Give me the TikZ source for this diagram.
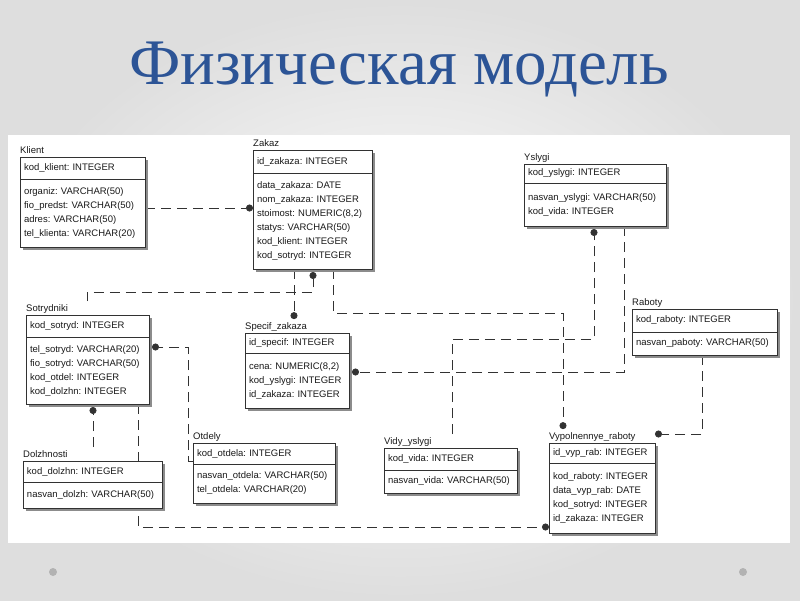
\documentclass[tikz,border=0pt]{standalone}
\usepackage{fontspec}
\setmainfont{Liberation Sans}
\newfontfamily\titlefont{Liberation Serif}
\usepackage{xcolor}
\usepackage{tikz}
\usetikzlibrary{arrows.meta,positioning,shadows}
\frenchspacing

\definecolor{titleblue}{RGB}{44,84,150}
\definecolor{erline}{RGB}{50,50,50}
\definecolor{ertext}{RGB}{25,25,25}

\pgfdeclarelayer{slide}
\pgfdeclarelayer{links}
\pgfsetlayers{slide,links,main}

\begin{document}
\begin{tikzpicture}[
    x=1pt, y=-1pt,
    font=\fontsize{9.5}{14}\selectfont,
    tbl/.style={draw=erline, fill=white, line width=0.8pt, text=ertext, align=left,
      inner xsep=4pt, inner ysep=2pt, outer sep=0pt, text width=#1,
      execute at begin node={\hyphenpenalty=10000\relax},
      drop shadow={shadow xshift=3pt, shadow yshift=-3pt, fill=black!45, opacity=1}},
    tname/.style={anchor=base west, inner sep=0pt, outer ysep=3pt, text=ertext},
    rel/.style={draw=erline, line width=0.8pt, dash pattern=on 10pt off 6pt},
    dot/.style={rel, -{Circle[length=7pt]}}
  ]
  \useasboundingbox (0,0) rectangle (800,600);

  % slide background and screenshot area
  \begin{pgfonlayer}{slide}
    \shade[inner color=white, outer color=black!13] (0,0) rectangle (800,600);
    \fill[white] (8,135) rectangle (790,543);
    \fill[black!30] (53,572) circle (4pt);
    \fill[black!30] (743,572) circle (4pt);
  \end{pgfonlayer}

  \node[font=\titlefont\fontsize{65}{65}\selectfont, text=titleblue] (title) at (399,70) {Физическая модель};

  % Tables: key part on top, attributes below
  \node[tbl=117pt, minimum height=22pt, anchor=north west] (klient) at (20,157) {kod\_klient: INTEGER};
  \node[tbl=117pt, minimum height=68pt, below=0pt of klient] (klient-b) {organiz: VARCHAR(50)\\fio\_predst: VARCHAR(50)\\adres: VARCHAR(50)\\tel\_klienta: VARCHAR(20)};
  \node[tname] (klient-t) at ([yshift=4pt]klient.north west) {Klient};

  \node[tbl=111pt, minimum height=23pt, anchor=north west] (zakaz) at (253,150) {id\_zakaza: INTEGER};
  \node[tbl=111pt, minimum height=96pt, below=0pt of zakaz] (zakaz-b) {data\_zakaza: DATE\\nom\_zakaza: INTEGER\\stoimost: NUMERIC(8,2)\\statys: VARCHAR(50)\\kod\_klient: INTEGER\\kod\_sotryd: INTEGER};
  \node[tname] (zakaz-t) at ([yshift=4pt]zakaz.north west) {Zakaz};

  \node[tbl=134pt, minimum height=19pt, anchor=north west] (ysl) at (524,164) {kod\_yslygi: INTEGER};
  \node[tbl=134pt, minimum height=43pt, below=0pt of ysl] (ysl-b) {nasvan\_yslygi: VARCHAR(50)\\kod\_vida: INTEGER};
  \node[tname] (ysl-t) at ([yshift=4pt]ysl.north west) {Yslygi};

  \node[tbl=137pt, minimum height=23pt, anchor=north west] (rab) at (632,309) {kod\_raboty: INTEGER};
  \node[tbl=137pt, minimum height=23pt, below=0pt of rab] (rab-b) {nasvan\_paboty: VARCHAR(50)};
  \node[tname] (rab-t) at ([yshift=4pt]rab.north west) {Raboty};

  \node[tbl=115pt, minimum height=22pt, anchor=north west] (sotr) at (26,315) {kod\_sotryd: INTEGER};
  \node[tbl=115pt, minimum height=67pt, below=0pt of sotr] (sotr-b) {tel\_sotryd: VARCHAR(20)\\fio\_sotryd: VARCHAR(50)\\kod\_otdel: INTEGER\\kod\_dolzhn: INTEGER};
  \node[tname] (sotr-t) at ([yshift=4pt]sotr.north west) {Sotrydniki};

  \node[tbl=96pt, minimum height=20pt, anchor=north west] (spec) at (245,333) {id\_specif: INTEGER};
  \node[tbl=96pt, minimum height=55pt, below=0pt of spec] (spec-b) {cena: NUMERIC(8,2)\\kod\_yslygi: INTEGER\\id\_zakaza: INTEGER};
  \node[tname] (spec-t) at ([yshift=4pt]spec.north west) {Specif\_zakaza};

  \node[tbl=131pt, minimum height=21pt, anchor=north west] (dolzh) at (23,461) {kod\_dolzhn: INTEGER};
  \node[tbl=131pt, minimum height=26pt, below=0pt of dolzh] (dolzh-b) {nasvan\_dolzh: VARCHAR(50)};
  \node[tname] (dolzh-t) at ([yshift=4pt]dolzh.north west) {Dolzhnosti};

  \node[tbl=134pt, minimum height=21pt, anchor=north west] (otd) at (193,443) {kod\_otdela: INTEGER};
  \node[tbl=134pt, minimum height=39pt, below=0pt of otd] (otd-b) {nasvan\_otdela: VARCHAR(50)\\tel\_otdela: VARCHAR(20)};
  \node[tname] (otd-t) at ([yshift=4pt]otd.north west) {Otdely};

  \node[tbl=125pt, minimum height=22pt, anchor=north west] (vidy) at (384,448) {kod\_vida: INTEGER};
  \node[tbl=125pt, minimum height=23pt, below=0pt of vidy] (vidy-b) {nasvan\_vida: VARCHAR(50)};
  \node[tname] (vidy-t) at ([yshift=4pt]vidy.north west) {Vidy\_yslygi};

  \node[tbl=98pt, minimum height=20pt, anchor=north west] (vyp) at (549,443) {id\_vyp\_rab: INTEGER};
  \node[tbl=98pt, minimum height=70pt, below=0pt of vyp] (vyp-b) {kod\_raboty: INTEGER\\data\_vyp\_rab: DATE\\kod\_sotryd: INTEGER\\id\_zakaza: INTEGER};
  \node[tname] (vyp-t) at ([yshift=4pt]vyp.north west) {Vypolnennye\_raboty};

  % Relationships (dot on the child side), kept behind the tables
  \begin{pgfonlayer}{links}
    \draw[dot] (klient-b.east |- 0,208) -- (zakaz-b.west |- 0,208);
    \draw[dot] (sotr-t.north -| 87,0) |- (313,292) -- ([yshift=-3pt]zakaz-b.south -| 313,0);
    \draw[dot] (zakaz-b.south -| 294,0) -- (spec-t.north -| 294,0);
    \draw[dot] (zakaz-b.south -| 333,0) |- (563,313) -- (vyp-t.north -| 563,0);
    \draw[dot] (ysl-b.south -| 624,0) |- ([xshift=3pt]spec-b.east |- 0,372);
    \draw[dot] (vidy-t.north -| 452,0) |- (594,339) -- ([yshift=-3pt]ysl-b.south -| 594,0);
    \draw[dot] (rab-b.south -| 702,0) |- (vyp.east |- 0,434);
    \draw[dot] (otd.west |- 0,461) -| (188,347) -- ([xshift=3pt]sotr-b.east |- 0,347);
    \draw[dot] (dolzh-t.north -| 93,0) -- ([yshift=-3pt]sotr-b.south -| 93,0);
    \draw[dot] (sotr-b.south -| 138,0) |- (vyp-b.west |- 0,527);
  \end{pgfonlayer}

\end{tikzpicture}
\end{document}
